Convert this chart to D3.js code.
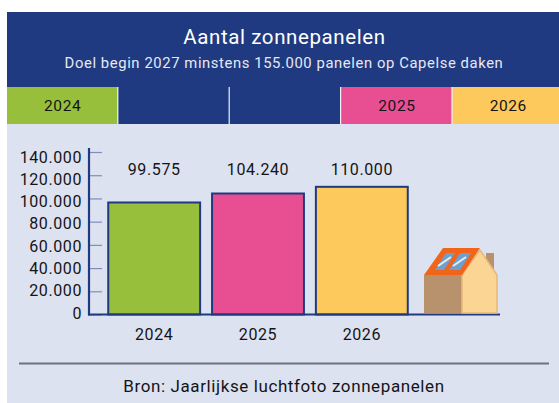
<!DOCTYPE html>
<html>
<head>
<meta charset="utf-8">
<script src="https://cdnjs.cloudflare.com/ajax/libs/d3/7.8.5/d3.min.js"></script>
<style>
  html, body { margin: 0; padding: 0; background: #fff; }
  svg { display: block; }
  text { font-family: Roboto, "Noto Sans", sans-serif; letter-spacing: 0.6px; }
</style>
</head>
<body>
<div id="chart"></div>
<script>
var title = 'Aantal zonnepanelen';
var subtitle = 'Doel begin 2027 minstens 155.000 panelen op Capelse daken';
var source = 'Bron: Jaarlijkse luchtfoto zonnepanelen';

var years = ['2024', '2025', '2026'];
// bar heights: the 2024 bar is drawn a bit lower than its label
var barValues = [96500, 104240, 110000];
var barLabels = ['99.575', '104.240', '110.000'];
var barColors = ['#97bf3b', '#e84f93', '#fdc95c'];

var tickValues = [0, 20000, 40000, 60000, 80000, 100000, 120000, 140000];
var stripLabels = ['2024', '', '', '2025', '2026'];
var stripColors = ['#97bf3b', '#1f3a80', '#1f3a80', '#e84f93', '#fdc95c'];

var navy = '#1f3a80';
var textDark = '#141418';

var svg = d3.select('#chart').append('svg')
  .attr('width', 559)
  .attr('height', 403);

// panel and header
svg.append('rect').attr('x', 7).attr('y', 12).attr('width', 552).attr('height', 391).attr('fill', '#dde2f0');
svg.append('rect').attr('x', 7).attr('y', 12).attr('width', 552).attr('height', 75).attr('fill', navy);

svg.append('text').attr('x', 284.5).attr('y', 44)
  .attr('text-anchor', 'middle').attr('fill', '#fff')
  .style('font-size', '20.5px').text(title);
svg.append('text').attr('x', 284).attr('y', 67.5)
  .attr('text-anchor', 'middle').attr('fill', '#e6e9f4')
  .style('font-size', '14.8px').text(subtitle);

// coloured strip under the header
var stripScale = d3.scaleBand()
  .domain(d3.range(stripLabels.length))
  .range([7, 564]);

var strip = svg.append('g').selectAll('g')
  .data(stripLabels)
  .join('g')
  .attr('transform', (d, i) => 'translate(' + stripScale(i) + ',87)');

strip.append('rect')
  .attr('width', stripScale.bandwidth())
  .attr('height', 37)
  .attr('fill', (d, i) => stripColors[i]);

strip.append('line')
  .attr('x1', stripScale.bandwidth()).attr('x2', stripScale.bandwidth())
  .attr('y1', 0).attr('y2', 37)
  .attr('stroke', '#f0f2fa').attr('stroke-width', 2.4);

strip.append('text')
  .attr('x', stripScale.bandwidth() / 2)
  .attr('y', 24)
  .attr('text-anchor', 'middle')
  .attr('fill', textDark)
  .style('font-size', '15.5px')
  .text(d => d);

// scales
var y = d3.scaleLinear().domain([0, 140000]).range([314.5, 152]);
// the axis labels are set a little tighter than the ticks
var yLabels = d3.scaleLinear().domain([0, 140000]).range([313, 157]);
var x = d3.scaleBand().domain(years).range([102, 414]).paddingInner(0.115).paddingOuter(0.06);

// tick marks
var tickAxis = svg.append('g')
  .attr('transform', 'translate(89,0)')
  .call(d3.axisLeft(y).tickValues(tickValues).tickSize(-13).tickFormat(''));
tickAxis.select('.domain').remove();
tickAxis.selectAll('.tick line').attr('stroke', '#7f8db8').attr('stroke-width', 1.2);

// tick labels
var labelAxis = svg.append('g')
  .attr('transform', 'translate(82,0)')
  .call(d3.axisLeft(yLabels).tickValues(tickValues).tickSize(0).tickPadding(0)
    .tickFormat(d => d3.format(',')(d).replace(/,/g, '.')));
labelAxis.select('.domain').remove();
labelAxis.selectAll('text')
  .attr('fill', textDark)
  .style('font-size', '16px');

// bars
svg.append('g').selectAll('rect')
  .data(years)
  .join('rect')
  .attr('x', d => x(d))
  .attr('y', (d, i) => y(barValues[i]))
  .attr('width', x.bandwidth())
  .attr('height', (d, i) => y(0) - y(barValues[i]))
  .attr('fill', (d, i) => barColors[i])
  .attr('stroke', navy)
  .attr('stroke-width', 2);

// value labels all sit on one line
svg.append('g').selectAll('text')
  .data(barLabels)
  .join('text')
  .attr('x', (d, i) => x(years[i]) + x.bandwidth() / 2)
  .attr('y', 175)
  .attr('text-anchor', 'middle')
  .attr('fill', textDark)
  .style('font-size', '16px')
  .text(d => d);

svg.append('g').selectAll('text')
  .data(years)
  .join('text')
  .attr('x', d => x(d) + x.bandwidth() / 2)
  .attr('y', 340)
  .attr('text-anchor', 'middle')
  .attr('fill', textDark)
  .style('font-size', '16px')
  .text(d => d);

// axis lines
svg.append('line').attr('x1', 89).attr('x2', 89).attr('y1', 148).attr('y2', 315.5)
  .attr('stroke', navy).attr('stroke-width', 2.2);
svg.append('line').attr('x1', 88).attr('x2', 500).attr('y1', 314.5).attr('y2', 314.5)
  .attr('stroke', navy).attr('stroke-width', 2.2);

// house
var house = svg.append('g');
function poly(points, fill, stroke) {
  house.append('polygon')
    .attr('points', points)
    .attr('fill', fill)
    .attr('stroke', stroke || 'none')
    .attr('stroke-width', stroke ? 1.5 : 0);
}
poly('486,253 494,253 494,270 486,270', '#b8926c');
poly('424,275 462,275 462,313 424,313', '#b8926c');
poly('462,275 480,250 497,275 497,313 462,313', '#fbd594', '#e6b878');
poly('424,275 443,248 480,248 462,275', '#f0651a');
poly('435,270 446,253 455,253 444,270', '#6f9fce');
poly('449,270 460,253 471,253 460,270', '#6f9fce');
house.append('line').attr('x1', 438).attr('y1', 266).attr('x2', 451).attr('y2', 257).attr('stroke', '#e6eef6').attr('stroke-width', 2);
house.append('line').attr('x1', 453).attr('y1', 266).attr('x2', 466).attr('y2', 257).attr('stroke', '#e6eef6').attr('stroke-width', 2);

// footer
svg.append('line').attr('x1', 19).attr('x2', 549).attr('y1', 363.5).attr('y2', 363.5)
  .attr('stroke', '#6d7282').attr('stroke-width', 2);
svg.append('text').attr('x', 284).attr('y', 392)
  .attr('text-anchor', 'middle').attr('fill', textDark)
  .style('font-size', '17px').text(source);
</script>
</body>
</html>
